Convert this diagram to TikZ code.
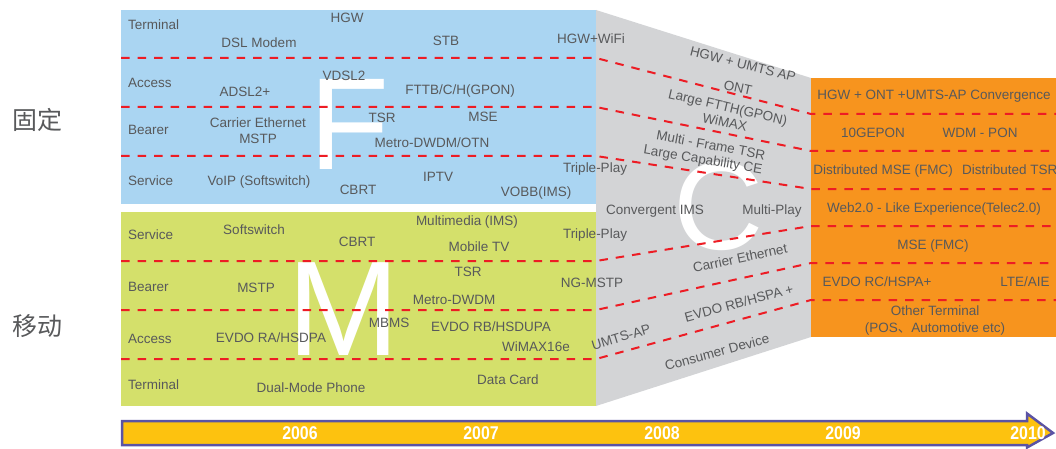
\documentclass[tikz,border=0pt]{standalone}
\usepackage{fontspec}
\setmainfont{Liberation Sans}
\newfontfamily\cjk{Noto Sans CJK SC}
\definecolor{fixblue}{HTML}{AAD5F2}
\definecolor{mobgreen}{HTML}{D4E06B}
\definecolor{convgray}{HTML}{D3D4D6}
\definecolor{futorange}{HTML}{F7941E}
\definecolor{dashred}{HTML}{ED1C24}
\definecolor{txtgray}{HTML}{58595B}
\definecolor{tlyellow}{HTML}{FDC20F}
\definecolor{tlpurple}{HTML}{5B53A4}
\tikzset{
  lbl/.style={font=\fontsize{13.5}{15}\selectfont, text=txtgray, inner sep=0pt, text height=9.7pt, text depth=0pt},
  rowlbl/.style={lbl, anchor=west},
  bigletter/.style={font=\fontsize{#1}{#1}\selectfont, text=white, inner sep=0pt, anchor=base},
  dashline/.style={draw=dashred, line width=2pt, dash pattern=on 8.5pt off 8pt},
  yearlbl/.style={font=\fontsize{18.5}{18.5}\selectfont\bfseries, text=white, inner sep=0pt, text height=13.3pt, text depth=0pt, xscale=0.86},
  cjklbl/.style={font=\cjk\fontsize{25}{25}\selectfont, text=txtgray, inner sep=0pt}
}
\begin{document}
\begin{tikzpicture}[x=1pt,y=-1pt]
\useasboundingbox (0,0) rectangle (1056,449);
\clip (0,0) rectangle (1056,449);
% regions
\fill[convgray] (596,10) -- (811,78) -- (811,337) -- (596,406) -- cycle;
\fill[fixblue] (121,10) rectangle (596,204);
\fill[mobgreen] (121,212) rectangle (596,406);
\fill[futorange] (811,78) rectangle (1056,337);
% big letters
\node[bigletter=131, anchor=base west] (bigF) at (309,169) {F};
\node[bigletter=135] (bigM) at (344,355) {M};
\node[bigletter=125] (bigC) at (719,249) {C};
% dashed layer lines
\draw[dashline] (121,58) -- (596,58) -- (811,114) -- (1056,114);
\draw[dashline] (121,107) -- (596,107) -- (811,151) -- (1056,151);
\draw[dashline] (121,156) -- (596,156) -- (811,189) -- (1056,189);
\draw[dashline] (121,261) -- (596,261) -- (811,226) -- (1056,226);
\draw[dashline] (121,310) -- (596,310) -- (811,263) -- (1056,263);
\draw[dashline] (121,359) -- (596,359) -- (811,300) -- (1056,300);
% left labels
\node[cjklbl] (fixed) at (37.5,120) {固定};
\node[cjklbl] (mobile) at (37.5,326) {移动};
% fixed (blue) box
\node[rowlbl] (fterm) at (128,25) {Terminal};
\node[rowlbl] (facc) at (128,83) {Access};
\node[rowlbl] (fbear) at (128,130) {Bearer};
\node[rowlbl] (fserv) at (128,181) {Service};
\node[lbl] (hgw) at (347,18) {HGW};
\node[lbl] (dslm) at (259,43) {DSL Modem};
\node[lbl] (stb) at (446,41) {STB};
\node[lbl] (hgwwifi) at (591,39) {HGW+WiFi};
\node[lbl] (adsl) at (245,92) {ADSL2+};
\node[lbl] (vdsl) at (344,76) {VDSL2};
\node[lbl] (ftth) at (460,90) {FTTB/C/H(GPON)};
\node[lbl] (fce) at (258,123) {Carrier Ethernet};
\node[lbl] (fmstp) at (258,139) {MSTP};
\node[lbl] (ftsr) at (382,118) {TSR};
\node[lbl] (mse) at (483,117) {MSE};
\node[lbl] (mdwdmotn) at (432,143) {Metro-DWDM/OTN};
\node[lbl] (voip) at (259,181) {VoIP (Softswitch)};
\node[lbl] (fcbrt) at (358,190) {CBRT};
\node[lbl] (iptv) at (438,177) {IPTV};
\node[lbl] (vobb) at (536,192) {VOBB(IMS)};
\node[lbl] (ftp) at (595,168) {Triple-Play};
% mobile (green) box
\node[rowlbl] (mserv) at (128,235) {Service};
\node[rowlbl] (mbear) at (128,287) {Bearer};
\node[rowlbl] (macc) at (128,339) {Access};
\node[rowlbl] (mterm) at (128,385) {Terminal};
\node[lbl] (softsw) at (254,230) {Softswitch};
\node[lbl] (mcbrt) at (357,242) {CBRT};
\node[lbl] (mmims) at (467,221) {Multimedia (IMS)};
\node[lbl] (mtv) at (479,247) {Mobile TV};
\node[lbl] (mtp) at (595,234) {Triple-Play};
\node[lbl] (mmstp) at (256,288) {MSTP};
\node[lbl] (mtsr) at (468,272) {TSR};
\node[lbl] (mdwdm) at (454,300) {Metro-DWDM};
\node[lbl] (ngmstp) at (592,283) {NG-MSTP};
\node[lbl] (evdora) at (271,338) {EVDO RA/HSDPA};
\node[lbl] (mbms) at (389,323) {MBMS};
\node[lbl] (evdorb) at (491,327) {EVDO RB/HSDUPA};
\node[lbl] (wimax16) at (536,347) {WiMAX16e};
\node[lbl] (dmp) at (311,388) {Dual-Mode Phone};
\node[lbl] (dcard) at (508,380) {Data Card};
% convergence (gray) region
\node[lbl, rotate=-14] (hgwumts) at (743,64) {HGW + UMTS AP};
\node[lbl, rotate=-12] (ont) at (738,88) {ONT};
\node[lbl, rotate=-13] (lftth) at (728,107) {Large FTTH(GPON)};
\node[lbl, rotate=-12] (wimax) at (725,122) {WiMAX};
\node[lbl, rotate=-10.5] (mftsr) at (711,145) {Multi - Frame TSR};
\node[lbl, rotate=-9.5] (lcce) at (703,159) {Large Capability CE};
\node[lbl] (convims) at (655,210) {Convergent IMS};
\node[lbl] (multiplay) at (772,210) {Multi-Play};
\node[lbl, rotate=12] (cce) at (740,258) {Carrier Ethernet};
\node[lbl, rotate=15] (evdorbp) at (739,303) {EVDO RB/HSPA +};
\node[lbl, rotate=17] (umtsap) at (621,337) {UMTS-AP};
\node[lbl, rotate=15] (cdev) at (717,352) {Consumer Device};
% future (orange) box
\node[lbl] (oconv) at (934,95) {HGW + ONT +UMTS-AP Convergence};
\node[lbl] (tengepon) at (873,133) {10GEPON};
\node[lbl] (wdmpon) at (980,133) {WDM - PON};
\node[lbl] (dmse) at (883,170) {Distributed MSE (FMC)};
\node[lbl, anchor=west] (dtsr) at (962,170) {Distributed TSR};
\node[lbl] (web2) at (934,208) {Web2.0 - Like Experience(Telec2.0)};
\node[lbl] (omse) at (933,245) {MSE (FMC)};
\node[lbl] (evdorc) at (877,282) {EVDO RC/HSPA+};
\node[lbl] (lte) at (1025,282) {LTE/AIE};
\node[lbl] (oterm) at (935,311) {Other Terminal};
\node[lbl] (opos) at (935,328) {(POS{\cjk 、}Automotive etc)};
% timeline
\draw[draw=tlpurple, fill=tlyellow, line width=2.5pt, line join=miter]
  (122,421) -- (1027,421) -- (1027,413.5) -- (1053,433) -- (1027,447.5) -- (1027,445) -- (122,445) -- cycle;
\node[yearlbl] (y2006) at (300,433) {2006};
\node[yearlbl] (y2007) at (481,433) {2007};
\node[yearlbl] (y2008) at (662,433) {2008};
\node[yearlbl] (y2009) at (843,433) {2009};
\node[yearlbl] (y2010) at (1028,433) {2010};
\end{tikzpicture}
\end{document}
